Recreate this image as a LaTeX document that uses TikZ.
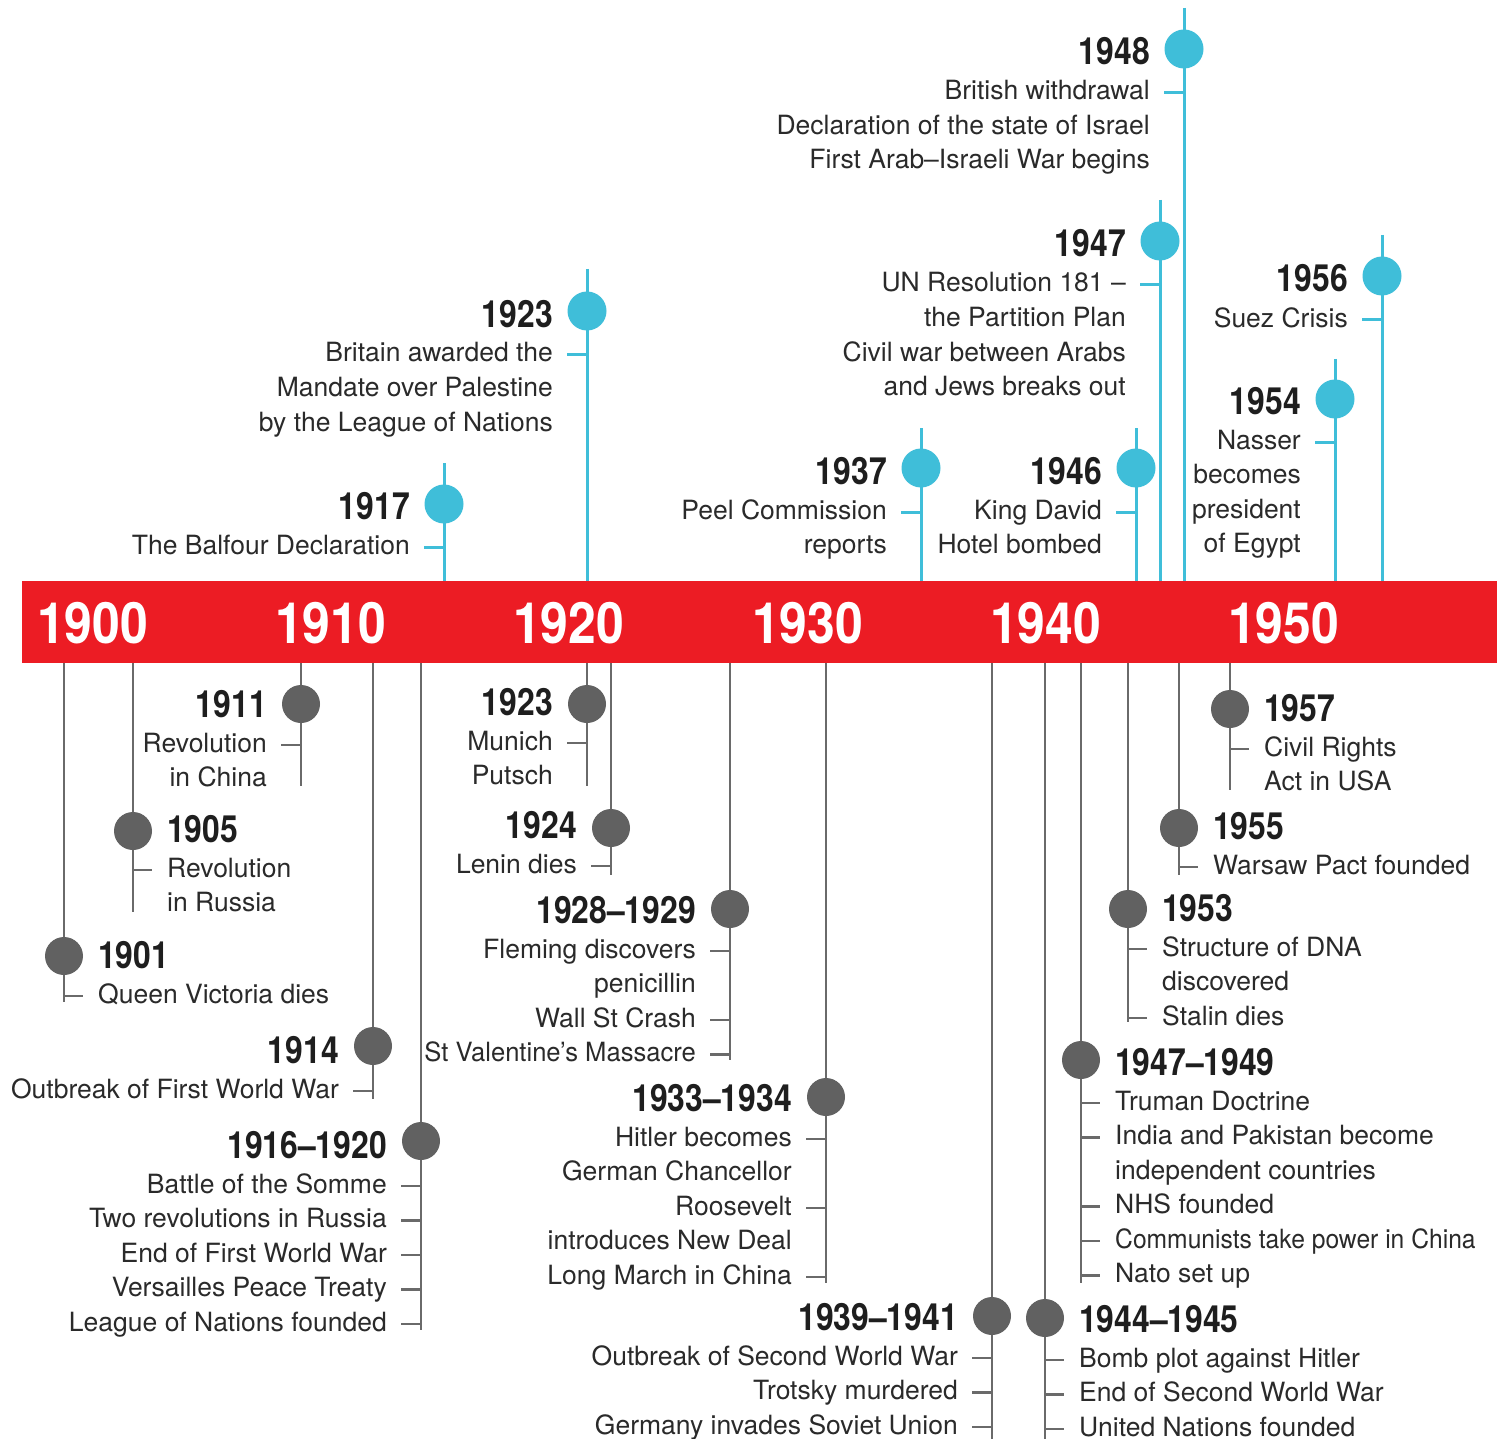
\documentclass[tikz,border=0pt]{standalone}
\usepackage{fontspec}
\setmainfont{TeX Gyre Heros}
\usepackage{graphicx}
\definecolor{barred}{HTML}{EC1C24}
\definecolor{cyanc}{HTML}{3FBED9}
\definecolor{grayl}{HTML}{6A6A6A}
\definecolor{grayd}{HTML}{616161}
\definecolor{txtc}{HTML}{2A2A2A}
\definecolor{yrc}{HTML}{1E1E1E}
\tikzset{
  txt/.style={font=\fontsize{26.5}{30}\selectfont, text=txtc, inner sep=0pt},
  yr/.style={font=\fontsize{37.5}{40}\selectfont\bfseries, text=yrc, inner sep=0pt},
  baryr/.style={font=\fontsize{57}{60}\selectfont\bfseries, text=white, inner sep=0pt, anchor=base west},
  cstem/.style={draw=cyanc, line width=3pt},
  gstem/.style={draw=grayl, line width=2.6pt},
  cdot/.style={circle, fill=cyanc, minimum size=39pt, inner sep=0pt},
  gdot/.style={circle, fill=grayd, minimum size=38pt, inner sep=0pt},
}
% stem: name, x, y1, y2, c/g
\newcommand\stem[5]{%
  \coordinate (#1-s) at (#2,#3);
  \coordinate (#1-e) at (#2,#4);
  \draw[#5stem] (#1-s) -- (#1-e);}
% labels on the left of the stem: name, x, dotY, yearBase, year, lines, ticks, c/g
\newcommand\labL[8]{%
  \node[yr, anchor=base east] (#1-y) at ({#2-34},#4) {\scalebox{0.85}[1]{#5}};
  \foreach \mytxt [count=\i] in {#6}{%
    \node[txt, anchor=base east] (#1-\i) at ({#2-34},{#4+35+34.5*(\i-1)}) {\mytxt};}
  \foreach \k in {#7}{%
    \coordinate (#1-t\k) at (#2,{#4+28+34.5*(\k-1)});
    \draw[#8stem] (#1-t\k) -- ++(-20,0);}
  \node[#8dot] (#1) at (#2,#3) {};}
% labels on the right of the stem
\newcommand\labR[8]{%
  \node[yr, anchor=base west] (#1-y) at ({#2+34},#4) {\scalebox{0.85}[1]{#5}};
  \foreach \mytxt [count=\i] in {#6}{%
    \node[txt, anchor=base west] (#1-\i) at ({#2+34},{#4+35+34.5*(\i-1)}) {\mytxt};}
  \foreach \k in {#7}{%
    \coordinate (#1-t\k) at (#2,{#4+28+34.5*(\k-1)});
    \draw[#8stem] (#1-t\k) -- ++(19,0);}
  \node[#8dot] (#1) at (#2,#3) {};}
\begin{document}
\begin{tikzpicture}[x=1pt,y=-1pt]
\fill[white] (0,0) rectangle (1497,1439);
\useasboundingbox (0,0) rectangle (1497,1439);
% bar
\fill[barred] (22,581) rectangle (1497,663);
\node[baryr] (b1900) at (37,643) {\scalebox{0.875}[1]{1900}};
\node[baryr] (b1910) at (275,643) {\scalebox{0.875}[1]{1910}};
\node[baryr] (b1920) at (513,643) {\scalebox{0.875}[1]{1920}};
\node[baryr] (b1930) at (752,643) {\scalebox{0.875}[1]{1930}};
\node[baryr] (b1940) at (990,643) {\scalebox{0.875}[1]{1940}};
\node[baryr] (b1950) at (1228,643) {\scalebox{0.875}[1]{1950}};
% top events
\stem{e17}{444}{463}{581}{c}
\labL{e17}{444}{504}{519}{1917}{The Balfour Declaration}{1}{c}
\stem{e23t}{587}{269}{581}{c}
\labL{e23t}{587}{311}{327}{1923}{Britain awarded the,Mandate over Palestine,by the League of Nations}{1}{c}
\stem{e37}{921}{428}{581}{c}
\labL{e37}{921}{468}{484}{1937}{Peel Commission,reports}{1}{c}
\stem{e46}{1136}{428}{581}{c}
\labL{e46}{1136}{468}{484}{1946}{King David,Hotel bombed}{1}{c}
\stem{e47t}{1160}{200}{581}{c}
\labL{e47t}{1160}{241}{257}{1947}{UN Resolution 181 –,the Partition Plan,Civil war between Arabs,and Jews breaks out}{1}{c}
\stem{e48}{1184}{8}{581}{c}
\labL{e48}{1184}{49}{65}{1948}{British withdrawal,Declaration of the state of Israel,First Arab–Israeli War begins}{1}{c}
\stem{e54}{1335}{359}{581}{c}
\labL{e54}{1335}{399}{414}{1954}{Nasser,becomes,president,of Egypt}{1}{c}
\stem{e56}{1382}{235}{581}{c}
\labL{e56}{1382}{276}{292}{1956}{Suez Crisis}{1}{c}
% bottom events
\stem{e01}{64}{663}{1002}{g}
\labR{e01}{64}{956}{968}{1901}{Queen Victoria dies}{1}{g}
\stem{e05}{133}{663}{912}{g}
\labR{e05}{133}{831}{842}{1905}{Revolution,in Russia}{1}{g}
\stem{e11}{301}{663}{786}{g}
\labL{e11}{301}{704}{717}{1911}{Revolution,in China}{1}{g}
\stem{e14}{373}{663}{1099}{g}
\labL{e14}{373}{1046}{1063}{1914}{Outbreak of First World War}{1}{g}
\stem{e16}{421}{663}{1330}{g}
\labL{e16}{421}{1141}{1158}{1916–1920}{Battle of the Somme,Two revolutions in Russia,End of First World War,Versailles Peace Treaty,League of Nations founded}{1,2,3,4,5}{g}
\stem{e23b}{587}{663}{786}{g}
\labL{e23b}{587}{704}{715}{1923}{Munich,Putsch}{1}{g}
\stem{e24}{611}{663}{875}{g}
\labL{e24}{611}{828}{838}{1924}{Lenin dies}{1}{g}
\stem{e28}{730}{663}{1060}{g}
\labL{e28}{730}{909}{923}{1928–1929}{Fleming discovers,penicillin,Wall St Crash,\scalebox{0.965}[1]{St Valentine’s Massacre}}{1,3,4}{g}
\stem{e33}{826}{663}{1283}{g}
\labL{e33}{826}{1097}{1111}{1933–1934}{Hitler becomes,German Chancellor,Roosevelt,introduces New Deal,Long March in China}{1,3,5}{g}
\stem{e39}{992}{663}{1439}{g}
\labL{e39}{992}{1316}{1330}{1939–1941}{Outbreak of Second World War,Trotsky murdered,Germany invades Soviet Union}{1,2,3}{g}
\stem{e44}{1045}{663}{1439}{g}
\labR{e44}{1045}{1318}{1332}{1944–1945}{Bomb plot against Hitler,End of Second World War,United Nations founded}{1,2,3}{g}
\stem{e47b}{1081}{663}{1283}{g}
\labR{e47b}{1081}{1060}{1075}{1947–1949}{Truman Doctrine,India and Pakistan become,independent countries,NHS founded,\scalebox{0.93}[1]{Communists take power in China},Nato set up}{1,2,4,5,6}{g}
\stem{e53}{1128}{663}{1022}{g}
\labR{e53}{1128}{909}{921}{1953}{Structure of DNA,discovered,Stalin dies}{1,3}{g}
\stem{e55}{1179}{663}{875}{g}
\labR{e55}{1179}{828}{839}{1955}{Warsaw Pact founded}{1}{g}
\stem{e57}{1230}{663}{790}{g}
\labR{e57}{1230}{709}{721}{1957}{Civil Rights,Act in USA}{1}{g}
\end{tikzpicture}
\end{document}
